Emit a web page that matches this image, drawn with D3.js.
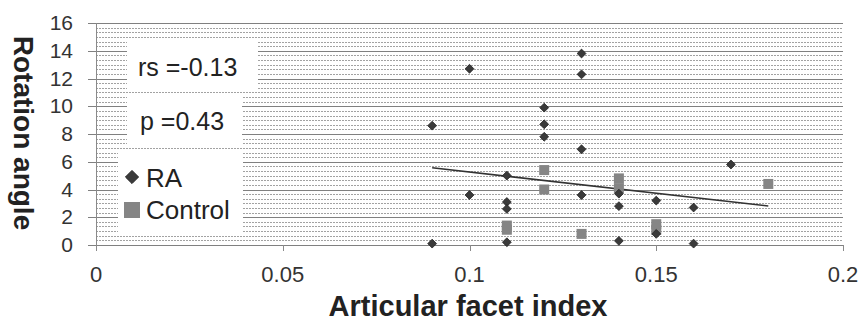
<!DOCTYPE html>
<html>
<head>
<meta charset="utf-8">
<script src="https://cdn.jsdelivr.net/npm/d3@7"></script>
<style>
  body { margin: 0; background: #fff; }
  svg text { font-family: "Liberation Sans", Arial, sans-serif; }
</style>
</head>
<body>
<div id="viz"></div>
<script>
// RA group (diamonds)
var raX = [0.09, 0.09, 0.10, 0.10, 0.11, 0.11, 0.11, 0.11, 0.12, 0.12, 0.12,
           0.13, 0.13, 0.13, 0.13, 0.14, 0.14, 0.14, 0.15, 0.15, 0.16, 0.16, 0.17];
var raY = [8.6, 0.1, 12.7, 3.6, 5.0, 3.1, 2.6, 0.2, 9.9, 8.7, 7.8,
           13.8, 12.3, 6.9, 3.6, 3.7, 2.8, 0.3, 3.2, 0.8, 2.7, 0.1, 5.8];
// Control group (squares)
var controlX = [0.11, 0.11, 0.12, 0.12, 0.13, 0.14, 0.14, 0.15, 0.15, 0.18];
var controlY = [1.4, 1.1, 5.4, 4.0, 0.8, 4.8, 4.1, 1.5, 1.1, 4.4];
// linear trend line ends
var trendX = [0.09, 0.18];
var trendY = [5.57, 2.81];

var xTicks = [0, 0.05, 0.1, 0.15, 0.2];
var yTicks = [0, 2, 4, 6, 8, 10, 12, 14, 16];

var width = 860, height = 322;
var plotLeft = 96, plotRight = 843, plotTop = 23, plotBottom = 245;

var x = d3.scaleLinear().domain([0, 0.2]).range([plotLeft, plotRight]);
var y = d3.scaleLinear().domain([0, 16]).range([plotBottom, plotTop]);

var svg = d3.select('#viz').append('svg')
    .attr('width', width)
    .attr('height', height);

// dense horizontal gridlines (minor every 1/3, major every 2)
var minor = d3.range(0, 16.001, 1 / 3);
svg.append('g').selectAll('line').data(minor)
  .enter().append('line')
    .attr('x1', plotLeft).attr('x2', plotRight)
    .attr('y1', function(d) { return Math.round(y(d)) + 0.5; })
    .attr('y2', function(d) { return Math.round(y(d)) + 0.5; })
    .style('stroke', '#a2a2a2')
    .style('stroke-dasharray', '2,1');
svg.append('g').selectAll('line').data(yTicks)
  .enter().append('line')
    .attr('x1', plotLeft - 8).attr('x2', plotRight)
    .attr('y1', function(d) { return Math.round(y(d)) + 0.5; })
    .attr('y2', function(d) { return Math.round(y(d)) + 0.5; })
    .style('stroke', '#808080');

// white text boxes over the grid
var boxes = [[127, 42, 131, 47], [127, 97, 115, 47], [118, 151, 125, 81]];
svg.append('g').selectAll('rect').data(boxes)
  .enter().append('rect')
    .attr('x', function(d) { return d[0]; })
    .attr('y', function(d) { return d[1]; })
    .attr('width', function(d) { return d[2]; })
    .attr('height', function(d) { return d[3]; })
    .style('fill', '#fff');

// axes
svg.append('line')
    .attr('x1', plotLeft + 0.5).attr('x2', plotLeft + 0.5)
    .attr('y1', plotTop).attr('y2', plotBottom)
    .style('stroke', '#8a8a8a');
svg.append('g').selectAll('line').data(xTicks)
  .enter().append('line')
    .attr('x1', function(d) { return Math.round(x(d)) + 0.5; })
    .attr('x2', function(d) { return Math.round(x(d)) + 0.5; })
    .attr('y1', plotBottom).attr('y2', plotBottom + 6)
    .style('stroke', '#8a8a8a');

svg.append('g').selectAll('text').data(yTicks)
  .enter().append('text')
    .attr('x', 73)
    .attr('y', function(d) { return y(d) + 7; })
    .attr('text-anchor', 'end')
    .style('font-size', '21px')
    .style('fill', '#333')
    .text(function(d) { return d; });

svg.append('g').selectAll('text').data(xTicks)
  .enter().append('text')
    .attr('x', function(d) { return x(d); })
    .attr('y', 282)
    .attr('text-anchor', 'middle')
    .style('font-size', '22px')
    .style('fill', '#333')
    .text(function(d) { return d; });

// axis titles
svg.append('text')
    .attr('x', 468).attr('y', 316)
    .attr('text-anchor', 'middle')
    .style('font-size', '29px')
    .style('font-weight', 'bold')
    .style('fill', '#222')
    .text('Articular facet index');
svg.append('text')
    .attr('transform', 'translate(14,133) rotate(90)')
    .attr('text-anchor', 'middle')
    .style('font-size', '28px')
    .style('font-weight', 'bold')
    .style('fill', '#222')
    .text('Rotation angle');

// trend line
svg.append('line')
    .attr('x1', x(trendX[0])).attr('y1', y(trendY[0]))
    .attr('x2', x(trendX[1])).attr('y2', y(trendY[1]))
    .style('stroke', '#333')
    .style('stroke-width', 1.6);

// control squares
svg.append('g').selectAll('rect').data(controlX)
  .enter().append('rect')
    .attr('x', function(d) { return x(d) - 5; })
    .attr('y', function(d, i) { return y(controlY[i]) - 5; })
    .attr('width', 10).attr('height', 10)
    .style('fill', '#858585');

// RA diamonds
var diamond = d3.symbol().type(d3.symbolDiamond2).size(50);
svg.append('g').selectAll('path').data(raX)
  .enter().append('path')
    .attr('d', diamond)
    .attr('transform', function(d, i) {
      return 'translate(' + x(d) + ',' + y(raY[i]) + ')';
    })
    .style('fill', '#3a3a3a')
    .style('stroke', '#222')
    .style('stroke-width', 0.8);

// stats text
svg.append('text')
    .attr('x', 138).attr('y', 76)
    .style('font-size', '25px')
    .style('fill', '#222')
    .text('rs =-0.13');
svg.append('text')
    .attr('x', 140).attr('y', 130)
    .style('font-size', '25px')
    .style('fill', '#222')
    .text('p =0.43');

// legend
svg.append('path')
    .attr('d', d3.symbol().type(d3.symbolDiamond2).size(110))
    .attr('transform', 'translate(132,177)')
    .style('fill', '#3a3a3a')
    .style('stroke', '#222');
svg.append('text')
    .attr('x', 146).attr('y', 187)
    .style('font-size', '26px')
    .style('fill', '#222')
    .text('RA');
svg.append('rect')
    .attr('x', 124).attr('y', 202)
    .attr('width', 16).attr('height', 16)
    .style('fill', '#858585');
svg.append('text')
    .attr('x', 146).attr('y', 219)
    .style('font-size', '26px')
    .style('fill', '#222')
    .text('Control');
</script>
</body>
</html>
